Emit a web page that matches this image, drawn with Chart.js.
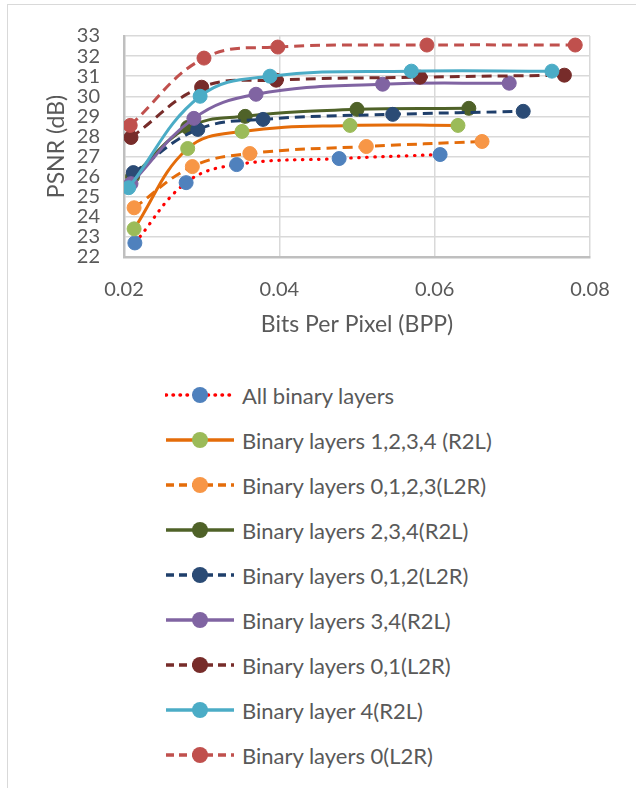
<!DOCTYPE html>
<html>
<head>
<meta charset="utf-8">
<script src="https://cdn.jsdelivr.net/npm/chart.js@4.4.0/dist/chart.umd.min.js"></script>
<style>
  html, body { margin: 0; padding: 0; background: #ffffff; }
  body { width: 636px; height: 788px; position: relative; overflow: hidden; font-family: Lato, "Open Sans", sans-serif; }
  #frame { position: absolute; left: 7px; top: 4px; width: 700px; height: 900px; border: 1.5px solid #d9d9d9; box-sizing: border-box; }
  #wrap { position: absolute; left: 0; top: 0; width: 636px; height: 345px; }
  #c { display: block; }
  #legend { position: absolute; left: 0; top: 0; width: 636px; }
  .item { position: absolute; left: 165px; height: 30px; display: flex; align-items: center; }
  .item svg { display: block; }
  .item span { margin-left: 7px; font-size: 22px; color: #595959; white-space: nowrap; }
</style>
</head>
<body>
<div id="frame"></div>
<div id="wrap"><canvas id="c" width="636" height="345"></canvas></div>
<div id="legend"></div>
<script>
// ---- data ----
const seriesNames = [
  "All binary layers",
  "Binary layers 1,2,3,4 (R2L)",
  "Binary layers 0,1,2,3(L2R)",
  "Binary layers 2,3,4(R2L)",
  "Binary layers 0,1,2(L2R)",
  "Binary layers 3,4(R2L)",
  "Binary layers 0,1(L2R)",
  "Binary layer 4(R2L)",
  "Binary layers 0(L2R)"
];
const allX   = [0.0214, 0.0280, 0.0345, 0.0477, 0.0607];
const allY   = [22.70, 25.70, 26.60, 26.90, 27.10];
const r1234X = [0.0213, 0.0282, 0.0352, 0.0491, 0.0630];
const r1234Y = [23.40, 27.40, 28.25, 28.55, 28.55];
const l0123X = [0.0213, 0.0288, 0.0362, 0.0512, 0.0661];
const l0123Y = [24.45, 26.50, 27.15, 27.50, 27.75];
const r234X  = [0.0211, 0.0282, 0.0356, 0.0500, 0.0644];
const r234Y  = [26.00, 28.45, 29.00, 29.35, 29.40];
const l012X  = [0.0212, 0.0295, 0.0379, 0.0546, 0.0714];
const l012Y  = [26.20, 28.35, 28.85, 29.10, 29.25];
const r34X   = [0.0209, 0.0290, 0.0370, 0.0533, 0.0696];
const r34Y   = [25.65, 28.90, 30.10, 30.60, 30.65];
const l01X   = [0.0209, 0.0300, 0.0396, 0.0581, 0.0767];
const l01Y   = [27.95, 30.45, 30.80, 30.95, 31.05];
const r4X    = [0.0206, 0.0298, 0.0388, 0.0570, 0.0751];
const r4Y    = [25.45, 30.00, 31.00, 31.25, 31.25];
const l0X    = [0.0208, 0.0303, 0.0398, 0.0590, 0.0781];
const l0Y    = [28.55, 31.90, 32.45, 32.55, 32.55];

const xTicks = [0.02, 0.04, 0.06, 0.08];
const yTicks = [22, 23, 24, 25, 26, 27, 28, 29, 30, 31, 32, 33];

const seriesX = [allX, r1234X, l0123X, r234X, l012X, r34X, l01X, r4X, l0X];
const seriesY = [allY, r1234Y, l0123Y, r234Y, l012Y, r34Y, l01Y, r4Y, l0Y];

// ---- styles ----
const lineColors   = ["#FF0000", "#E46C0A", "#E46C0A", "#4F6228", "#1F3F6B", "#8064A2", "#772C2A", "#4BACC6", "#C0504D"];
const markerColors = ["#4F81BD", "#9BBB59", "#F79646", "#4F6228", "#2B4B75", "#8064A2", "#772C2A", "#4BACC6", "#C0504D"];
const lineTypes    = ["dot", "solid", "dash", "solid", "dash", "solid", "dash", "solid", "dash"];

function dashFor(t) {
  if (t === "dot") return [0.5, 7.5];
  if (t === "dash") return [10, 6];
  return [];
}

const datasets = seriesNames.map((name, i) => ({
  label: name,
  data: seriesX[i].map((x, k) => ({ x: x, y: seriesY[i][k] })),
  borderColor: lineColors[i],
  backgroundColor: markerColors[i],
  pointBackgroundColor: markerColors[i],
  pointBorderColor: markerColors[i],
  pointBorderWidth: 1,
  pointRadius: 7,
  pointHoverRadius: 7,
  borderWidth: lineTypes[i] === "dot" ? 3.2 : 3,
  borderDash: dashFor(lineTypes[i]),
  borderCapStyle: lineTypes[i] === "dot" ? "round" : "butt",
  tension: 0.4,
  showLine: true,
  fill: false,
  order: -i
}));

const ctx = document.getElementById('c');
const chart = new Chart(ctx, {
  type: 'scatter',
  data: { datasets: datasets },
  options: {
    responsive: false,
    animation: false,
    devicePixelRatio: 1,
    layout: { padding: { left: 40, right: 46, top: 30, bottom: 7 } },
    plugins: { legend: { display: false }, tooltip: { enabled: false } },
    scales: {
      x: {
        type: 'linear',
        min: 0.02, max: 0.08,
        afterBuildTicks: (s) => { s.ticks = xTicks.map(v => ({ value: v })); },
        afterFit: (s) => { s.height = 81; },
        ticks: {
          padding: 21,
          autoSkip: false,
          maxRotation: 0,
          color: '#595959',
          font: { family: 'Lato', size: 20 },
          callback: (v) => Number(v).toFixed(2)
        },
        grid: { color: '#d9d9d9', lineWidth: 1.5, drawTicks: false },
        border: { color: '#bfbfbf', width: 2.5 },
        title: {
          display: true,
          text: 'Bits Per Pixel (BPP)',
          color: '#595959',
          font: { family: 'Lato', size: 23 },
          padding: { top: 0, bottom: 0 }
        }
      },
      y: {
        type: 'linear',
        min: 22, max: 33,
        afterBuildTicks: (s) => { s.ticks = yTicks.map(v => ({ value: v })); },
        afterFit: (s) => { s.width = 84; },
        ticks: {
          padding: 24,
          autoSkip: false,
          color: '#595959',
          font: { family: 'Lato', size: 20 }
        },
        grid: { color: '#d9d9d9', lineWidth: 1.5, drawTicks: false },
        border: { color: '#bfbfbf', width: 2.5 },
        title: {
          display: true,
          text: 'PSNR (dB)',
          color: '#595959',
          font: { family: 'Lato', size: 23 },
          padding: { top: 3, bottom: 0 }
        }
      }
    }
  },
  plugins: [{
    id: 'whiteBg',
    beforeDraw: (chart) => {
      const c = chart.ctx;
      c.save(); c.fillStyle = '#ffffff';
      const a = chart.chartArea;
      c.fillRect(a.left, a.top, a.right - a.left, a.bottom - a.top);
      c.restore();
    }
  }]
});

// ---- legend ----
const legend = document.getElementById('legend');
seriesNames.forEach((name, i) => {
  const item = document.createElement('div');
  item.className = 'item';
  item.style.top = (395 + 45 * i - 15) + 'px';
  const dash = lineTypes[i] === 'dot' ? '0.5 6.5' : (lineTypes[i] === 'dash' ? '8 5' : '');
  const cap = lineTypes[i] === 'dot' ? 'round' : 'butt';
  const sw = 3.5;
  item.innerHTML =
    '<svg width="70" height="30" viewBox="0 0 70 30">' +
    '<line x1="1" y1="15" x2="69" y2="15" stroke="' + lineColors[i] + '" stroke-width="' + sw + '"' +
    (dash ? ' stroke-dasharray="' + dash + '"' : '') + ' stroke-linecap="' + cap + '"/>' +
    '<circle cx="35" cy="15" r="8" fill="' + markerColors[i] + '"/>' +
    '</svg><span>' + name + '</span>';
  legend.appendChild(item);
});
</script>
</body>
</html>
